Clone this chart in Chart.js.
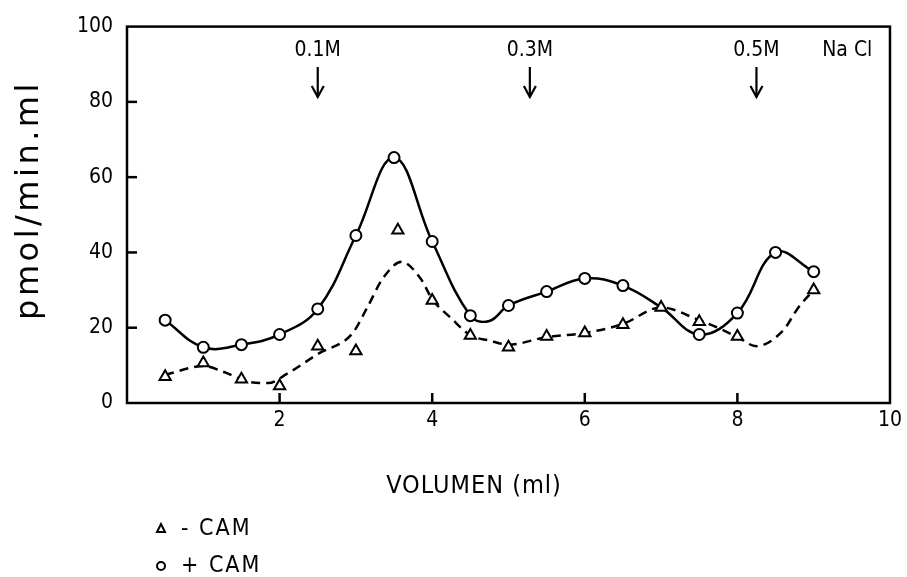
<!DOCTYPE html>
<html lang="de">
<head>
<meta charset="UTF-8">
<title>VOLUMEN</title>
<script src="https://cdn.jsdelivr.net/npm/chart.js"></script>
<style>
  html, body { margin: 0; padding: 0; background: #fff; }
  #wrap { width: 907px; height: 577px; }
</style>
</head>
<body>
<div id="wrap"><canvas id="myChart"></canvas></div>
<script>
  // measured points (- CAM triangles, + CAM circles)
  var volMinus = [0.5, 1, 1.5, 2, 2.5, 3, 3.55, 4, 4.5, 5, 5.5, 6, 6.5, 7, 7.5, 8, 9]
  var actMinus = [7, 10.6, 6.3, 4.5, 15.1, 13.8, 45.9, 27.2, 17.9, 14.8, 17.7, 18.6, 20.8, 25.4, 21.6, 17.7, 30]
  var volPlus = [0.5, 1, 1.5, 2, 2.5, 3, 3.5, 4, 4.5, 5, 5.5, 6, 6.5, 7.5, 8, 8.5, 9]
  var actPlus = [22, 14.8, 15.5, 18.2, 25, 44.5, 65.2, 42.9, 23.2, 25.9, 29.6, 33.1, 31.2, 18.2, 23.9, 40, 34.9]

  // hand drawn curves
  var curvePlusX = [0.5, 1, 1.5, 2, 2.5, 3, 3.5, 4, 4.5, 4.75, 5, 5.5, 6, 6.5, 7, 7.5, 8, 8.5, 9]
  var curvePlusY = [22, 14.8, 15.5, 18.2, 25, 44.5, 65.2, 42.9, 23.2, 21.8, 25.9, 29.6, 33.1, 31.2, 25.4, 18.2, 23.9, 40, 34.9]
  var curveMinusX = [0.5, 1, 1.3, 1.6, 1.85, 2.1, 2.5, 2.95, 3.15, 3.35, 3.6, 3.85, 4, 4.25, 4.5, 4.75, 5, 5.5, 6, 6.5, 7, 7.5, 7.8, 8, 8.25, 8.6, 8.8, 9]
  var curveMinusY = [7.5, 9.8, 8, 5.6, 5.3, 7.8, 13, 18.4, 25.4, 33, 37.5, 33, 27.6, 22.5, 18, 16.6, 15.5, 17.5, 18.6, 21, 25.4, 22, 19.5, 17.5, 15.1, 19.3, 25.4, 30]

  // NaCl steps
  var saltPos = [2.5, 5.28, 8.25]
  var saltLabels = ['0.1M', '0.3M', '0.5M']

  var xTicks = [2, 4, 6, 8, 10]
  var yTicks = [0, 20, 40, 60, 80, 100]

  function pts(xs, ys) {
    return xs.map(function (x, i) { return { x: x, y: ys[i] } })
  }

  var fontFam = '"DejaVu Sans Condensed", "DejaVu Sans", sans-serif'

  const decor = {
    id: 'decor',
    afterDraw: function (chart) {
      var c = chart.ctx
      var a = chart.chartArea
      var sx = chart.scales.x
      var sy = chart.scales.y
      c.save()
      c.strokeStyle = '#000'
      c.fillStyle = '#000'
      c.lineWidth = 2.5
      c.strokeRect(a.left, a.top, a.right - a.left, a.bottom - a.top)

      // inward ticks
      yTicks.forEach(function (v) {
        if (v == 0 || v == 100) return
        var y = sy.getPixelForValue(v)
        c.beginPath(); c.moveTo(a.left, y); c.lineTo(a.left + 10, y); c.stroke()
      })
      xTicks.forEach(function (v) {
        if (v == 10) return
        var x = sx.getPixelForValue(v)
        c.beginPath(); c.moveTo(x, a.bottom); c.lineTo(x, a.bottom - 10); c.stroke()
      })

      // salt arrows
      c.font = '21px ' + fontFam
      c.textAlign = 'center'
      c.textBaseline = 'middle'
      c.lineWidth = 2.2
      saltPos.forEach(function (v, i) {
        var x = sx.getPixelForValue(v)
        c.fillText(saltLabels[i], x, 51)
        c.beginPath(); c.moveTo(x, 67); c.lineTo(x, 97); c.stroke()
        c.beginPath(); c.moveTo(x - 6, 86); c.lineTo(x, 97); c.lineTo(x + 6, 86); c.stroke()
      })
      c.fillText('Na Cl', sx.getPixelForValue(9.44), 51)

      // axis titles
      c.font = '25px ' + fontFam
      c.letterSpacing = '1px'
      c.fillText('VOLUMEN (ml)', 474, 486)
      c.save()
      c.translate(30, 200)
      c.rotate(-Math.PI / 2)
      c.font = '32px "DejaVu Sans", sans-serif'
      c.letterSpacing = '3.5px'
      c.fillText('pmol/min.ml', 0, 0)
      c.restore()

      // legend
      c.textAlign = 'left'
      c.font = '23px ' + fontFam
      c.letterSpacing = '2px'
      c.lineWidth = 2
      c.beginPath(); c.moveTo(157, 532); c.lineTo(165, 532); c.lineTo(161, 524); c.closePath(); c.stroke()
      c.fillText(chart.data.datasets[0].label, 181, 529)
      c.beginPath(); c.arc(161, 566, 4, 0, Math.PI * 2); c.stroke()
      c.fillText(chart.data.datasets[1].label, 181, 566)
      c.restore()
    }
  }

  const ctx = document.getElementById('myChart')

  new Chart(ctx, {
    type: 'scatter',
    data: {
      datasets: [
        {
          label: '- CAM',
          data: pts(volMinus, actMinus),
          pointStyle: 'triangle',
          pointRadius: 6.5,
          pointBorderWidth: 2,
          pointBackgroundColor: '#fff',
          pointBorderColor: '#000'
        },
        {
          label: '+ CAM',
          data: pts(volPlus, actPlus),
          pointStyle: 'circle',
          pointRadius: 5.5,
          pointBorderWidth: 2,
          pointBackgroundColor: '#fff',
          pointBorderColor: '#000'
        },
        {
          label: 'curve +',
          data: pts(curvePlusX, curvePlusY),
          showLine: true,
          pointRadius: 0,
          borderColor: '#000',
          borderWidth: 2.5,
          tension: 0.4
        },
        {
          label: 'curve -',
          data: pts(curveMinusX, curveMinusY),
          showLine: true,
          pointRadius: 0,
          borderColor: '#000',
          borderWidth: 2.5,
          borderDash: [9, 6],
          cubicInterpolationMode: 'monotone'
        }
      ]
    },
    options: {
      responsive: true,
      maintainAspectRatio: false,
      animation: false,
      layout: { padding: { left: 0, right: 14, top: 25, bottom: 134 } },
      plugins: { legend: { display: false }, tooltip: { enabled: false } },
      scales: {
        x: {
          type: 'linear', min: 0, max: 10,
          afterFit: function (s) { s.height = 40 },
          afterBuildTicks: function (s) { s.ticks = xTicks.map(function (v) { return { value: v } }) },
          grid: { display: false, drawTicks: false },
          border: { display: false },
          ticks: { color: '#000', padding: 5, font: { size: 21, family: fontFam } }
        },
        y: {
          min: 0, max: 100,
          afterFit: function (s) { s.width = 127 },
          afterBuildTicks: function (s) { s.ticks = yTicks.map(function (v) { return { value: v } }) },
          grid: { display: false, drawTicks: false },
          border: { display: false },
          ticks: { color: '#000', padding: 14, font: { size: 21, family: fontFam } }
        }
      }
    },
    plugins: [decor]
  })
</script>
</body>
</html>
